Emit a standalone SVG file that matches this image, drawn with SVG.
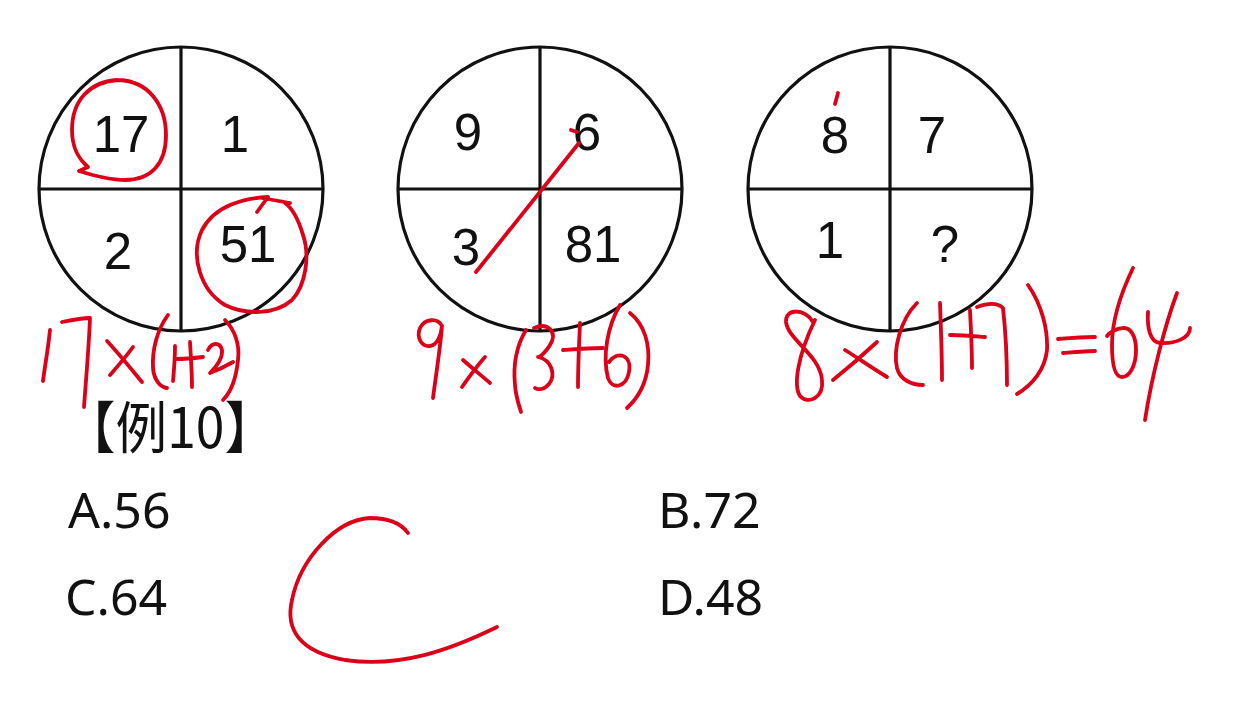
<svg xmlns="http://www.w3.org/2000/svg" width="1238" height="719" viewBox="0 0 1238 719">
<style>
.ring{fill:none;stroke:#111;stroke-width:3.2}
.div{stroke:#111;stroke-width:3.2}
.num{font-family:"Liberation Sans",Arial,sans-serif;font-size:51px;fill:#111;text-anchor:middle}
.opt{font-family:"Noto Sans","Liberation Sans",sans-serif;font-size:50px;fill:#111}
.ttl{font-family:"Noto Sans CJK SC","Noto Sans",sans-serif;font-size:56px;fill:#111}
.ink{fill:none;stroke:#dc0018;stroke-width:3.8;stroke-linecap:round;stroke-linejoin:round}
</style>
<rect width="1238" height="719" fill="#fff"/>
<g id="circle1">
<circle class="ring" cx="181" cy="189" r="142"/>
<line class="div" x1="39" y1="189" x2="323" y2="189"/>
<line class="div" x1="181" y1="47" x2="181" y2="331"/>
<text class="num" x="121" y="152">17</text>
<text class="num" x="235" y="152">1</text>
<text class="num" x="118" y="269">2</text>
<text class="num" x="248" y="262">51</text>
</g>
<g id="circle2">
<circle class="ring" cx="540" cy="189" r="142"/>
<line class="div" x1="398" y1="189" x2="682" y2="189"/>
<line class="div" x1="540" y1="47" x2="540" y2="331"/>
<text class="num" x="468" y="150">9</text>
<text class="num" x="587" y="150">6</text>
<text class="num" x="466" y="265">3</text>
<text class="num" x="593" y="262">81</text>
</g>
<g id="circle3">
<circle class="ring" cx="890" cy="189" r="142"/>
<line class="div" x1="748" y1="189" x2="1032" y2="189"/>
<line class="div" x1="890" y1="47" x2="890" y2="331"/>
<text class="num" x="835" y="153">8</text>
<text class="num" x="932" y="153">7</text>
<text class="num" x="830" y="258">1</text>
<text class="num" x="945" y="262">?</text>
</g>
<g id="question">
<text class="ttl" x="64" y="448" textLength="212" lengthAdjust="spacingAndGlyphs">【例10】</text>
<text class="opt" x="68" y="528">A.56</text>
<text class="opt" x="658" y="528">B.72</text>
<text class="opt" x="65" y="615">C.64</text>
<text class="opt" x="658" y="615">D.48</text>
</g>
<g id="connectors" class="ink">
<path d="M117,80 C90,82 72,100 72,130 C72,150 80,160 88,167 L79,171 C95,176 110,180 125,180 C150,180 166,165 166,135 C166,105 148,80 117,80"/>
<path d="M257,212 L268,197 C245,198 215,205 202,230 C190,255 200,290 225,305 C245,315 275,315 292,300 C306,285 310,255 303,235 C298,218 292,208 285,203 M262,198 L290,203"/>
<path d="M476,272 L579,143 M571,130 L577,132"/>
<path d="M838,93 L835,104"/>
<path d="M50,330 C48,350 45,365 43,381"/>
<path d="M62,322 C72,320 82,318 90,318 C89,345 86,380 84,407"/>
<path d="M107,341 C120,355 132,370 142,382 M133,347 C125,358 117,367 110,375"/>
<path d="M168,315 C157,330 152,350 153,368 C154,380 160,387 167,388"/>
<path d="M175,346 C175,360 174,370 173,381"/>
<path d="M176,359 C185,359 195,358 203,357 M190,342 C191,360 192,372 192,387"/>
<path d="M208,350 C212,342 220,342 222,350 C223,358 215,368 210,373 C218,370 226,366 233,362"/>
<path d="M225,320 C235,330 240,345 238,360 C236,380 230,393 223,400"/>
<path d="M442,326 C438,318 425,318 420,328 C416,338 422,347 430,346 C437,345 441,336 442,326 C440,350 436,375 433,398"/>
<path d="M463,360 C472,368 482,376 490,383 M485,357 C477,366 469,377 462,387"/>
<path d="M526,330 C517,345 513,365 515,385 C516,398 519,405 521,412"/>
<path d="M534,328 C548,322 558,332 550,345 C546,352 540,357 538,357 C552,360 556,375 549,384 C544,390 538,390 535,388"/>
<path d="M563,350 C577,349 590,348 603,348 M580,323 C579,345 578,365 578,387"/>
<path d="M620,305 C608,325 602,355 608,378 C612,390 626,388 629,372 C632,355 618,350 609,362"/>
<path d="M630,313 C645,325 650,345 648,365 C646,385 638,398 627,408"/>
<path d="M813,322 C805,308 785,308 786,322 C788,340 820,355 822,380 C824,398 808,405 800,396 C793,385 798,355 815,320"/>
<path d="M833,380 C848,368 863,355 877,342 M845,350 C858,358 872,368 887,377"/>
<path d="M917,303 C900,320 893,350 897,368 C900,380 912,385 923,385"/>
<path d="M940,303 C941,330 942,355 942,380"/>
<path d="M950,335 C962,335 973,336 985,337 M970,310 C971,330 972,350 972,368"/>
<path d="M977,307 C988,303 998,303 1003,308 C1006,335 1007,360 1007,385"/>
<path d="M1028,285 C1042,305 1048,330 1047,350 C1045,370 1032,385 1017,394"/>
<path d="M1058,339 C1070,338 1083,337 1095,337 M1063,353 C1075,352 1085,351 1095,351"/>
<path d="M1133,268 C1120,295 1112,320 1112,345 C1112,365 1115,377 1122,377 C1130,377 1136,365 1136,350 C1136,335 1130,328 1124,328 C1117,328 1110,332 1107,336"/>
<path d="M1148,312 C1147,328 1150,342 1160,343 C1175,344 1190,338 1190,328 M1177,293 C1165,325 1152,375 1145,420"/>
<path d="M408,533 C400,522 385,518 370,518 C335,520 300,560 292,600 C285,630 300,652 345,660 C400,668 450,650 497,627"/>
</g>
</svg>
